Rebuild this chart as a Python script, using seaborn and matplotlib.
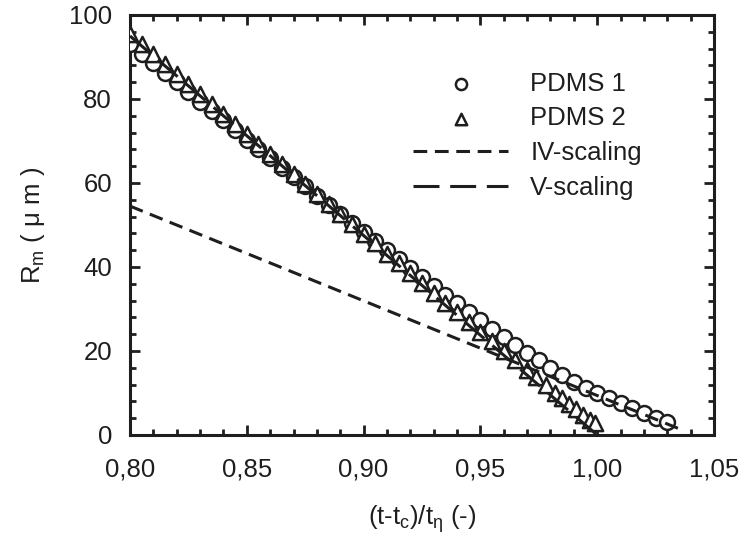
import numpy as np
import pandas as pd
import matplotlib
matplotlib.use("Agg")
import matplotlib.pyplot as plt
import seaborn as sns

# ---- data ----
pdms1_x = [0.800, 0.805, 0.810, 0.815, 0.820, 0.825, 0.830, 0.835, 0.840, 0.845,
           0.850, 0.855, 0.860, 0.865, 0.870, 0.875, 0.880, 0.885, 0.890, 0.895,
           0.900, 0.905, 0.910, 0.915, 0.920, 0.925, 0.930, 0.935, 0.940, 0.945,
           0.950, 0.955, 0.960, 0.965, 0.970, 0.975, 0.980, 0.985, 0.990, 0.995,
           1.000, 1.005, 1.010, 1.015, 1.020, 1.025, 1.030]
pdms1_r = [93.0, 90.8, 88.5, 86.2, 84.0, 81.7, 79.4, 77.1, 74.9, 72.6,
           70.3, 68.1, 65.9, 63.6, 61.4, 59.2, 57.0, 54.8, 52.6, 50.4,
           48.3, 46.1, 44.0, 41.8, 39.7, 37.6, 35.5, 33.4, 31.4, 29.4,
           27.3, 25.3, 23.3, 21.4, 19.6, 17.8, 16.0, 14.3, 12.7, 11.3,
           10.0, 8.8, 7.6, 6.5, 5.3, 4.1, 3.0]

pdms2_x = [0.800, 0.805, 0.810, 0.815, 0.820, 0.825, 0.830, 0.835, 0.840, 0.845,
           0.850, 0.855, 0.860, 0.865, 0.870, 0.875, 0.880, 0.885, 0.890, 0.895,
           0.900, 0.905, 0.910, 0.915, 0.920, 0.925, 0.930, 0.935, 0.940, 0.945,
           0.950, 0.955, 0.960, 0.965, 0.970, 0.974, 0.978, 0.982, 0.985, 0.988,
           0.991, 0.994, 0.997, 0.999]
pdms2_r = [95.5, 93.2, 90.8, 88.4, 86.0, 83.6, 81.2, 78.8, 76.4, 74.1,
           71.7, 69.3, 66.9, 64.5, 62.2, 59.8, 57.4, 55.0, 52.6, 50.3,
           47.9, 45.6, 43.2, 40.9, 38.5, 36.2, 33.8, 31.5, 29.2, 26.9,
           24.6, 22.3, 20.0, 17.8, 15.5, 13.7, 11.9, 10.1, 8.8, 7.4,
           6.1, 4.8, 3.6, 2.8]

iv_x = [0.800, 1.035]
iv_r = [54.5, 1.5]
v_x = [0.800, 1.000]
v_r = [95.0, 0.0]

labels = ["PDMS 1", "PDMS 2", "IV-scaling", "V-scaling"]
x_ticks = [0.80, 0.85, 0.90, 0.95, 1.00, 1.05]
y_ticks = [0, 20, 40, 60, 80, 100]

# ---- style ----
sns.set_style("ticks")
plt.rcParams['font.family'] = ['Liberation Sans', 'DejaVu Sans']
plt.rcParams['mathtext.fontset'] = 'custom'
plt.rcParams['mathtext.rm'] = 'Liberation Sans'
plt.rcParams['mathtext.it'] = 'Liberation Sans:italic'
plt.rcParams['mathtext.default'] = 'regular'

ink = '#1e1e1e'
fs = 18.5

fig = plt.figure(figsize=(7.41, 5.35), dpi=100)
ax = fig.add_axes([130/741, 100/535, 584/741, 420/535])

df1 = pd.DataFrame({'x': pdms1_x, 'r': pdms1_r})
df2 = pd.DataFrame({'x': pdms2_x, 'r': pdms2_r})
dfiv = pd.DataFrame({'x': iv_x, 'r': iv_r})
dfv = pd.DataFrame({'x': v_x, 'r': v_r})

sns.scatterplot(data=df1, x='x', y='r', ax=ax, marker='o', s=115,
                facecolor='white', edgecolor=ink, linewidth=1.8,
                label=labels[0], zorder=3)
sns.scatterplot(data=df2, x='x', y='r', ax=ax, marker='^', s=120,
                facecolor='white', edgecolor=ink, linewidth=1.8,
                label=labels[1], zorder=4)
sns.lineplot(data=dfiv, x='x', y='r', ax=ax, color=ink, linewidth=2.2,
             dashes=False, label=labels[2], zorder=5)
sns.lineplot(data=dfv, x='x', y='r', ax=ax, color=ink, linewidth=2.2,
             dashes=False, label=labels[3], zorder=5)
lines = ax.get_lines()
lines[-2].set_dashes((4.5, 2.5))
lines[-1].set_dashes((8.5, 3.5))

ax.set_xlim(0.80, 1.05)
ax.set_ylim(0, 100)
ax.set_xticks(x_ticks)
ax.set_xticklabels([f"{t:.2f}".replace('.', ',') for t in x_ticks])
ax.set_yticks(y_ticks)
ax.set_yticklabels([str(t) for t in y_ticks])
ax.set_xticks(np.arange(0.80, 1.0501, 0.01), minor=True)
ax.set_yticks(np.arange(0, 100.1, 4), minor=True)

ax.tick_params(which='both', direction='in', top=True, right=True,
               color=ink, width=2.0, labelsize=fs, labelcolor=ink)
ax.tick_params(which='major', length=7)
ax.tick_params(which='minor', length=4.5)
ax.tick_params(axis='x', which='major', pad=16)
ax.tick_params(axis='y', which='major', pad=13)
for sp in ax.spines.values():
    sp.set_visible(True)
    sp.set_linewidth(2.2)
    sp.set_color(ink)

ax.set_xlabel(r'(t-t$_\mathrm{c}$)/t$_\eta$ (-)', fontsize=fs, color=ink, labelpad=16)
ax.set_ylabel(r'R$_\mathrm{m}$ ( μ m )', fontsize=fs, color=ink, labelpad=16)

leg = ax.legend(loc='upper left', bbox_to_anchor=(0.485, 0.865), frameon=False,
                fontsize=fs, borderpad=0, borderaxespad=0, handlelength=3.7,
                handletextpad=0.85, labelspacing=0.42, markerscale=0.75)
for t in leg.get_texts():
    t.set_color(ink)

fig.savefig('out.png', dpi=100)
